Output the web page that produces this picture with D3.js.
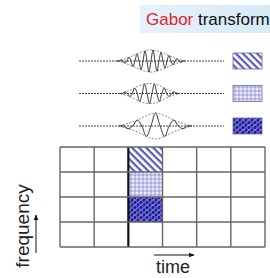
<!DOCTYPE html>
<head>
<meta charset="utf-8">
<script src="https://d3js.org/d3.v7.min.js"></script>
<style>
  body { margin: 0; background: #fff; }
  text { font-family: "Liberation Sans", Arial, sans-serif; }
</style>
</head>
<body>
<svg id="chart" width="270" height="278"></svg>
<script>
// grid: 6 time slots x 4 frequency bands
var timeSlots = [0, 1, 2, 3, 4, 5];
var freqBands = [0, 1, 2, 3];           // 0 = top row
var cellCols = [2, 2, 2];
var cellRows = [0, 1, 2];
var cellFill = ["hatch", "dots", "mesh"];

// wavelets (peak amplitudes, alternating sign)
var wave1 = [0.1, -0.2, 0.35, -0.5, 0.65, -0.8, 0.92, -1, 1, -0.92, 0.8, -0.65, 0.5, -0.35, 0.2, -0.1];
var wave2 = [0.15, -0.3, 0.55, -0.8, 0.95, -1, 0.95, -0.8, 0.55, -0.3, 0.15];
var wave3 = [-0.2, 0.45, -0.8, 1, -0.8, 0.45, -0.2];
var waves = [wave1, wave2, wave3];
var waveFill = ["hatch", "dots", "mesh"];

var svg = d3.select("#chart");
var defs = svg.append("defs");

// title background
var grad = defs.append("linearGradient").attr("id", "tbg").attr("x1", 0).attr("x2", 1);
grad.append("stop").attr("offset", "0%").attr("stop-color", "#e6f2fb");
grad.append("stop").attr("offset", "100%").attr("stop-color", "#d6eaf8");
svg.append("rect").attr("x", 140).attr("y", 5).attr("width", 130).attr("height", 28).attr("fill", "url(#tbg)");
var title = svg.append("text").attr("x", 146).attr("y", 25).attr("font-size", 17);
title.append("tspan").attr("fill", "#e8202a").text("Gabor");
title.append("tspan").attr("fill", "#111").text(" transform");

// patterns
var p1 = defs.append("pattern").attr("id", "hatch").attr("patternUnits", "userSpaceOnUse")
  .attr("width", 5).attr("height", 5).attr("patternTransform", "rotate(45)");
p1.append("rect").attr("width", 5).attr("height", 5).attr("fill", "#fff");
p1.append("rect").attr("width", 5).attr("height", 2.2).attr("fill", "#5a5ab8");

var p2 = defs.append("pattern").attr("id", "dots").attr("patternUnits", "userSpaceOnUse")
  .attr("width", 4).attr("height", 4);
p2.append("rect").attr("width", 4).attr("height", 4).attr("fill", "#c4c4ec");
p2.append("circle").attr("cx", 1).attr("cy", 1).attr("r", 0.9).attr("fill", "#fff");
p2.append("circle").attr("cx", 3).attr("cy", 3).attr("r", 0.7).attr("fill", "#8080d0");

var p3 = defs.append("pattern").attr("id", "mesh").attr("patternUnits", "userSpaceOnUse")
  .attr("width", 6).attr("height", 5);
p3.append("rect").attr("width", 6).attr("height", 5).attr("fill", "#1c1c96");
p3.append("circle").attr("cx", 3).attr("cy", 2.5).attr("r", 2.2).attr("fill", "none").attr("stroke", "#8a8ae0").attr("stroke-width", 0.8);
p3.append("circle").attr("cx", 0).attr("cy", 0).attr("r", 2.2).attr("fill", "none").attr("stroke", "#8a8ae0").attr("stroke-width", 0.8);
p3.append("circle").attr("cx", 6).attr("cy", 5).attr("r", 2.2).attr("fill", "none").attr("stroke", "#8a8ae0").attr("stroke-width", 0.8);

// wavelets
var yWave = d3.scalePoint().domain([0, 1, 2]).range([61, 126]);
var oscStart = [117, 120, 119];
var oscEnd = [185, 179, 192];
var ampPx = [11, 10, 13];
var line = d3.line().x(function(d) { return d[0]; }).y(function(d) { return d[1]; }).curve(d3.curveCatmullRom);

waves.forEach(function(w, i) {
  var y0 = yWave(i);
  var n = w.length;
  var x = d3.scaleLinear().domain([-1, n]).range([oscStart[i], oscEnd[i]]);
  var a = d3.scaleLinear().domain([-1, 1]).range([y0 + ampPx[i], y0 - ampPx[i]]);
  // baseline tails
  svg.append("line").attr("x1", 79).attr("x2", 224).attr("y1", y0).attr("y2", y0)
    .attr("stroke", "#444").attr("stroke-width", 1).attr("stroke-dasharray", "2,1");
  // oscillation
  var pts = [[x(-1), y0]];
  w.forEach(function(v, k) {
    pts.push([x(k - 0.5), y0]);
    pts.push([x(k), a(v)]);
  });
  pts.push([x(n - 0.5), y0]);
  pts.push([x(n), y0]);
  svg.append("path").attr("d", line(pts)).attr("fill", "none").attr("stroke", "#222").attr("stroke-width", 0.9);
  // envelope
  [1, -1].forEach(function(s) {
    var env = [[x(-1), y0]];
    w.forEach(function(v, k) { env.push([x(k), a(s * Math.abs(v))]); });
    env.push([x(n), y0]);
    svg.append("path").attr("d", line(env)).attr("fill", "none").attr("stroke", "#555")
      .attr("stroke-width", 0.7).attr("stroke-dasharray", "2,1.5");
  });
  // legend box
  svg.append("rect").attr("x", 233).attr("y", y0 - 8).attr("width", 29).attr("height", 16)
    .attr("fill", "url(#" + waveFill[i] + ")").attr("stroke", "#6a6ab0").attr("stroke-width", 0.8);
});

// grid
var xT = d3.scaleBand().domain(timeSlots).range([60, 265]);
var yF = d3.scaleBand().domain(freqBands).range([147, 247]);

cellCols.forEach(function(c, i) {
  svg.append("rect").attr("x", xT(c)).attr("y", yF(cellRows[i]))
    .attr("width", xT.bandwidth()).attr("height", yF.bandwidth())
    .attr("fill", "url(#" + cellFill[i] + ")");
});

svg.selectAll(".vl").data(d3.range(timeSlots.length + 1)).enter().append("line")
  .attr("x1", function(d) { return 60 + d * xT.bandwidth(); })
  .attr("x2", function(d) { return 60 + d * xT.bandwidth(); })
  .attr("y1", 147).attr("y2", 247)
  .attr("stroke", function(d) { return d === 2 ? "#111" : "#666"; })
  .attr("stroke-width", function(d) { return d === 2 ? 2.2 : 1.4; });
svg.selectAll(".hl").data(d3.range(freqBands.length + 1)).enter().append("line")
  .attr("y1", function(d) { return 147 + d * yF.bandwidth(); })
  .attr("y2", function(d) { return 147 + d * yF.bandwidth(); })
  .attr("x1", 60).attr("x2", 265)
  .attr("stroke", "#666").attr("stroke-width", 1.4);

// axis labels with arrows
defs.append("marker").attr("id", "arr").attr("viewBox", "0 0 10 10").attr("refX", 9).attr("refY", 5)
  .attr("markerWidth", 6).attr("markerHeight", 6).attr("orient", "auto")
  .append("path").attr("d", "M0,1 L10,5 L0,9 z").attr("fill", "#111");

svg.append("text").attr("transform", "translate(29,226) rotate(-90)").attr("text-anchor", "middle")
  .attr("font-size", 19).attr("fill", "#222").text("frequency");
svg.append("line").attr("x1", 36).attr("x2", 36).attr("y1", 253).attr("y2", 215)
  .attr("stroke", "#111").attr("stroke-width", 1).attr("marker-end", "url(#arr)");

svg.append("text").attr("x", 173).attr("y", 273).attr("text-anchor", "middle")
  .attr("font-size", 18).attr("fill", "#222").text("time");
svg.append("line").attr("x1", 154).attr("x2", 194).attr("y1", 255).attr("y2", 255)
  .attr("stroke", "#111").attr("stroke-width", 1).attr("marker-end", "url(#arr)");
</script>
</body>
</html>
